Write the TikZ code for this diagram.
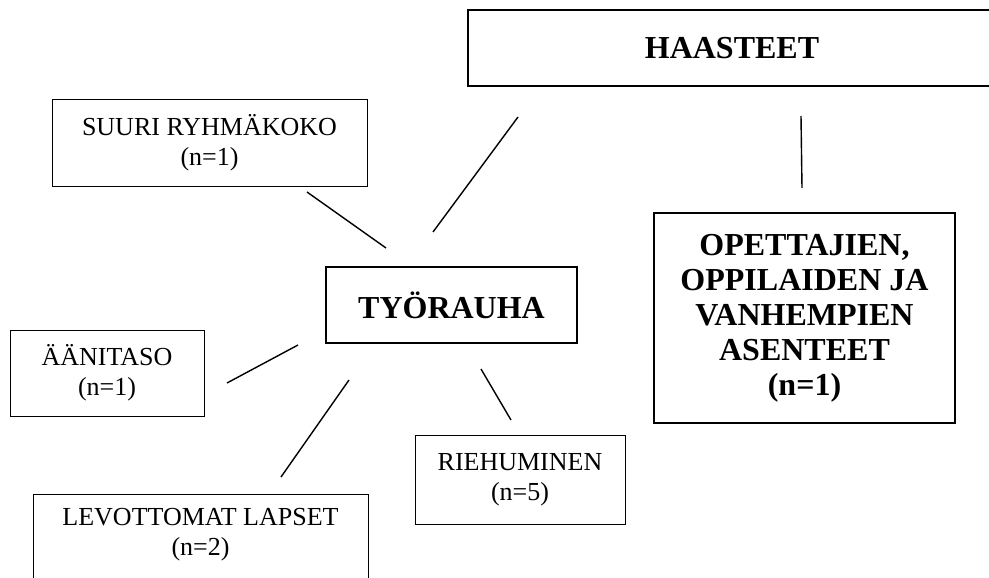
\documentclass[tikz,border=0pt]{standalone}
\usepackage{fontspec}
\setmainfont{Liberation Serif}
\usetikzlibrary{positioning}
\begin{document}
\begin{tikzpicture}[x=1pt, y=-1pt, box/.style={draw, align=center, inner sep=0pt, line width=1pt, font=\fontsize{26}{30}\selectfont}, bbox/.style={box, line width=2pt, font=\bfseries\fontsize{32}{35}\selectfont}, ln/.style={line width=1.4pt}]
\useasboundingbox (0,0) rectangle (989,578);
\node[bbox, minimum width=528pt, minimum height=76pt] (haas) at (732,48) {HAASTEET};
\node[box, minimum width=315pt, minimum height=86pt] (suuri) at (209.5,143) {SUURI RYHMÄKOKO\\(n=1)};
\node[bbox, minimum width=251pt, minimum height=76pt] (tyo) at (451.5,305) {TYÖRAUHA};
\node[bbox, minimum width=301pt, minimum height=210pt] (opet) at (804.5,318) {OPETTAJIEN,\\OPPILAIDEN JA\\VANHEMPIEN\\ASENTEET\\(n=1)};
\node[box, minimum width=194pt, minimum height=86pt] (aani) at (107,373) {ÄÄNITASO\\(n=1)};
\node[box, minimum width=210pt, minimum height=89pt] (rieh) at (520,479.5) {RIEHUMINEN\\(n=5)};
\node[box, anchor=north, minimum width=335pt, inner ysep=14pt, text depth=60pt] (lev) at (200.5,494) {LEVOTTOMAT LAPSET\\(n=2)};
\coordinate (h1) at (518,117);
\coordinate (t1) at (433,232);
\coordinate (h2) at (801,116);
\coordinate (o1) at (802,188);
\coordinate (s1) at (307,192);
\coordinate (t2) at (386,248);
\coordinate (a1) at (227,383);
\coordinate (t3) at (298,345);
\coordinate (t4) at (349,380);
\coordinate (l1) at (281,477);
\coordinate (t5) at (481,369);
\coordinate (r1) at (511,420);
\draw[ln] (h1) -- (t1);
\draw[ln] (h2) -- (o1);
\draw[ln] (s1) -- (t2);
\draw[ln] (a1) -- (t3);
\draw[ln] (t4) -- (l1);
\draw[ln] (t5) -- (r1);
\end{tikzpicture}
\end{document}
